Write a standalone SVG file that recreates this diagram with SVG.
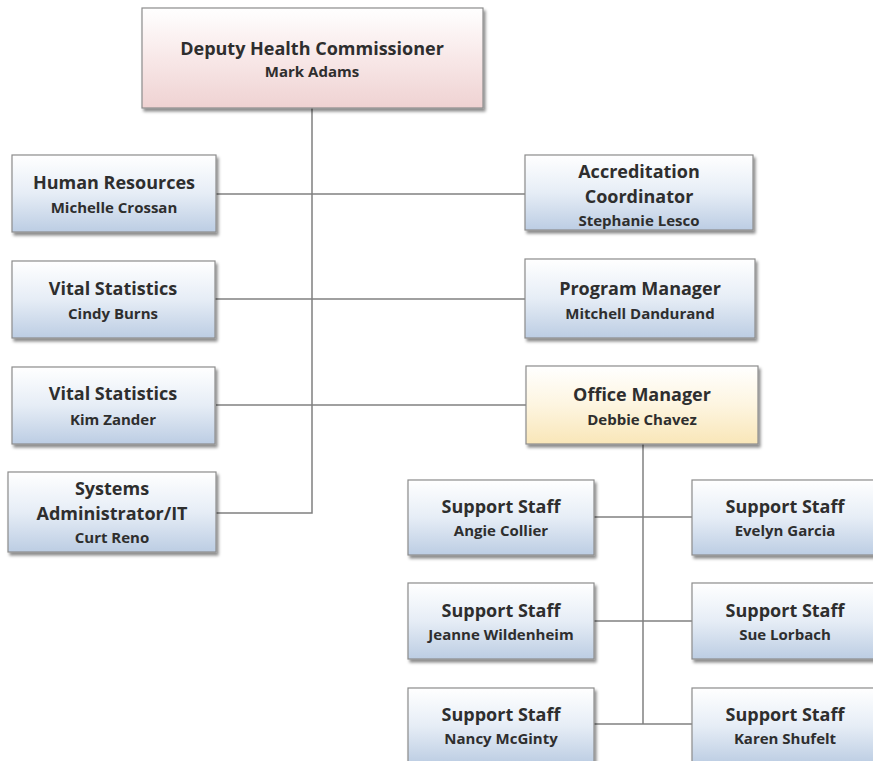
<svg xmlns="http://www.w3.org/2000/svg" width="873" height="761" viewBox="0 0 873 761">
<defs>
<linearGradient id="gBlue" x1="0" y1="0" x2="0" y2="1">
<stop offset="0" stop-color="#ffffff"/><stop offset="0.5" stop-color="#e6edf6"/><stop offset="1" stop-color="#bccde3"/>
</linearGradient>
<linearGradient id="gPink" x1="0" y1="0" x2="0" y2="1">
<stop offset="0" stop-color="#ffffff"/><stop offset="0.5" stop-color="#f8e8e8"/><stop offset="1" stop-color="#efd2d2"/>
</linearGradient>
<linearGradient id="gYellow" x1="0" y1="0" x2="0" y2="1">
<stop offset="0" stop-color="#ffffff"/><stop offset="0.5" stop-color="#fdf5e0"/><stop offset="1" stop-color="#f9e6b8"/>
</linearGradient>
<filter id="sh" x="-10%" y="-10%" width="125%" height="130%">
<feDropShadow dx="2" dy="3" stdDeviation="1.5" flood-color="#000" flood-opacity="0.45"/>
</filter>
</defs>
<style>
.box{stroke:#8c8c8c;stroke-width:1.2;filter:url(#sh)}
.b{fill:url(#gBlue)}
.p{fill:url(#gPink)}
.y{fill:url(#gYellow)}
text{font-family:"Open Sans","Noto Sans","DejaVu Sans",sans-serif;font-weight:700;fill:#2e2e2e;text-anchor:middle}
.t{font-size:18px}
.n{font-size:15px}
.c{stroke:#808080;stroke-width:1.5;fill:none}
</style>
<rect width="873" height="761" fill="#fff"/>
<g id="connectors">
<path class="c" d="M312,108 V513 H216"/>
<path class="c" d="M216,194 H525"/>
<path class="c" d="M215,299 H525"/>
<path class="c" d="M216,405 H526"/>
<path class="c" d="M643,444 V724"/>
<path class="c" d="M594,517 H692"/>
<path class="c" d="M594,621 H692"/>
<path class="c" d="M594,724 H692"/>
</g>
<g id="n-deputy">
<rect class="box p" x="142" y="8" width="341" height="100"/>
<text class="t" x="312" y="55">Deputy Health Commissioner</text>
<text class="n" x="312" y="77">Mark Adams</text>
</g>
<g id="n-hr">
<rect class="box b" x="12" y="155" width="204" height="77"/>
<text class="t" x="114" y="189">Human Resources</text>
<text class="n" x="114" y="213">Michelle Crossan</text>
</g>
<g id="n-accred">
<rect class="box b" x="525" y="155" width="228" height="75"/>
<text class="t" x="639" y="178">Accreditation</text>
<text class="t" x="639" y="203">Coordinator</text>
<text class="n" x="639" y="226">Stephanie Lesco</text>
</g>
<g id="n-vital1">
<rect class="box b" x="12" y="261" width="203" height="77"/>
<text class="t" x="113" y="295">Vital Statistics</text>
<text class="n" x="113" y="319">Cindy Burns</text>
</g>
<g id="n-program">
<rect class="box b" x="525" y="259" width="230" height="79"/>
<text class="t" x="640" y="295">Program Manager</text>
<text class="n" x="640" y="319">Mitchell Dandurand</text>
</g>
<g id="n-vital2">
<rect class="box b" x="12" y="367" width="203" height="77"/>
<text class="t" x="113" y="400">Vital Statistics</text>
<text class="n" x="113" y="425">Kim Zander</text>
</g>
<g id="n-office">
<rect class="box y" x="526" y="366" width="232" height="78"/>
<text class="t" x="642" y="401">Office Manager</text>
<text class="n" x="642" y="425">Debbie Chavez</text>
</g>
<g id="n-sysadmin">
<rect class="box b" x="8" y="472" width="208" height="80"/>
<text class="t" x="112" y="495">Systems</text>
<text class="t" x="112" y="520">Administrator/IT</text>
<text class="n" x="112" y="543">Curt Reno</text>
</g>
<g id="n-angie">
<rect class="box b" x="408" y="480" width="186" height="75"/>
<text class="t" x="501" y="513">Support Staff</text>
<text class="n" x="501" y="536">Angie Collier</text>
</g>
<g id="n-evelyn">
<rect class="box b" x="692" y="480" width="186" height="75"/>
<text class="t" x="785" y="513">Support Staff</text>
<text class="n" x="785" y="536">Evelyn Garcia</text>
</g>
<g id="n-jeanne">
<rect class="box b" x="408" y="583" width="186" height="76"/>
<text class="t" x="501" y="617">Support Staff</text>
<text class="n" x="501" y="640">Jeanne Wildenheim</text>
</g>
<g id="n-sue">
<rect class="box b" x="692" y="583" width="186" height="76"/>
<text class="t" x="785" y="617">Support Staff</text>
<text class="n" x="785" y="640">Sue Lorbach</text>
</g>
<g id="n-nancy">
<rect class="box b" x="408" y="688" width="186" height="76"/>
<text class="t" x="501" y="721">Support Staff</text>
<text class="n" x="501" y="744">Nancy McGinty</text>
</g>
<g id="n-karen">
<rect class="box b" x="692" y="688" width="186" height="76"/>
<text class="t" x="785" y="721">Support Staff</text>
<text class="n" x="785" y="744">Karen Shufelt</text>
</g>
</svg>
